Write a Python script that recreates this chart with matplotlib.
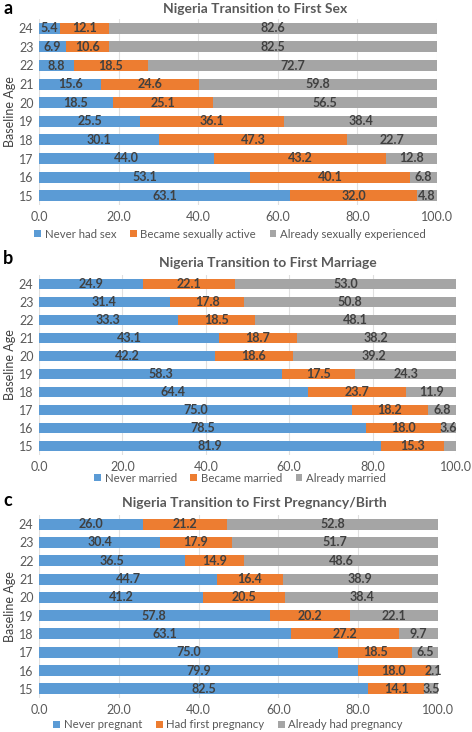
import numpy as np
import matplotlib
matplotlib.use("Agg")
import matplotlib.pyplot as plt

plt.rcParams["font.family"] = ["Lato", "DejaVu Sans"]

# Data, ages 15..24
ages = ["15", "16", "17", "18", "19", "20", "21", "22", "23", "24"]

sex_never = [63.1, 53.1, 44.0, 30.1, 25.5, 18.5, 15.6, 8.8, 6.9, 5.4]
sex_became = [32.0, 40.1, 43.2, 47.3, 36.1, 25.1, 24.6, 18.5, 10.6, 12.1]
sex_already = [4.8, 6.8, 12.8, 22.7, 38.4, 56.5, 59.8, 72.7, 82.5, 82.6]

mar_never = [81.9, 78.5, 75.0, 64.4, 58.3, 42.2, 43.1, 33.3, 31.4, 24.9]
mar_became = [15.3, 18.0, 18.2, 23.7, 17.5, 18.6, 18.7, 18.5, 17.8, 22.1]
mar_already = [2.8, 3.6, 6.8, 11.9, 24.3, 39.2, 38.2, 48.1, 50.8, 53.0]
mar_already_labels = ["", "3.6", "6.8", "11.9", "24.3", "39.2", "38.2", "48.1", "50.8", "53.0"]

preg_never = [82.5, 79.9, 75.0, 63.1, 57.8, 41.2, 44.7, 36.5, 30.4, 26.0]
preg_had = [14.1, 18.0, 18.5, 27.2, 20.2, 20.5, 16.4, 14.9, 17.9, 21.2]
preg_already = [3.5, 2.1, 6.5, 9.7, 22.1, 38.4, 38.9, 48.6, 51.7, 52.8]

xticks = [0, 20, 40, 60, 80, 100]

BLUE = "#5B9BD5"
ORANGE = "#ED7D31"
GREY = "#A5A5A5"
TXT = "#404040"
AXTXT = "#595959"

W, H = 472, 732
fig = plt.figure(figsize=(W / 100, H / 100), dpi=100)


def px_axes(x0, x1, ytop, ybot):
    return fig.add_axes([x0 / W, 1 - ybot / H, (x1 - x0) / W, (ybot - ytop) / H])


def draw_panel(ax, series, names, labels_list):
    y = np.arange(len(ages))
    left = np.zeros(len(ages))
    colors = [BLUE, ORANGE, GREY]
    handles = []
    for vals, name, col, labs in zip(series, names, colors, labels_list):
        bars = ax.barh(y, vals, left=left, height=0.6, color=col, label=name, zorder=3)
        if labs is None:
            labs = ["%.1f" % v for v in vals]
        ax.bar_label(bars, labels=labs, label_type="center", fontsize=9, color=TXT, fontweight="bold")
        left = left + np.array(vals)
        handles.append(bars)
    ax.set_xlim(0, 100)
    ax.set_ylim(-0.5, len(ages) - 0.5)
    ax.set_yticks(y)
    ax.set_yticklabels(ages)
    ax.set_xticks(xticks)
    ax.set_xticklabels(["%.1f" % t for t in xticks])
    ax.tick_params(axis="both", length=0, labelsize=9, colors=AXTXT, pad=4)
    ax.grid(axis="x", color="#E0E0E0", linewidth=0.8, zorder=0)
    for s in ax.spines.values():
        s.set_visible(False)
    ax.set_ylabel("Baseline Age", fontsize=9, color=TXT, labelpad=2)
    return handles


def add_legend(h, cx, cy):
    fig.legend(handles=h, loc="center", bbox_to_anchor=(cx / W, 1 - cy / H), ncol=3,
               frameon=False, fontsize=8.2, handlelength=0.6, handleheight=0.6,
               handletextpad=0.3, columnspacing=1.2, labelcolor=AXTXT,
               borderpad=0, borderaxespad=0)


# panel a
ax_a = px_axes(39, 437, 19, 205)
h = draw_panel(ax_a, [sex_never, sex_became, sex_already],
               ["Never had sex", "Became sexually active", "Already sexually experienced"],
               [None, None, None])
fig.text(255 / W, 1 - 9 / H, "Nigeria Transition to First Sex", ha="center", va="center",
         fontsize=10, color=AXTXT, fontweight="bold")
fig.text(3 / W, 1 - 8 / H, "a", ha="left", va="center", fontsize=13, fontweight="bold")
add_legend(h, 230, 234)

# panel b
ax_b = px_axes(39, 456, 275, 455)
h = draw_panel(ax_b, [mar_never, mar_became, mar_already],
               ["Never married", "Became married", "Already married"],
               [None, None, mar_already_labels])
fig.text(268 / W, 1 - 263 / H, "Nigeria Transition to First Marriage", ha="center", va="center",
         fontsize=10, color=AXTXT, fontweight="bold")
fig.text(3 / W, 1 - 259 / H, "b", ha="left", va="center", fontsize=13, fontweight="bold")
add_legend(h, 240, 478)

# panel c
ax_c = px_axes(39, 438, 515, 698)
h = draw_panel(ax_c, [preg_never, preg_had, preg_already],
               ["Never pregnant", "Had first pregnancy", "Already had pregnancy"],
               [None, None, None])
fig.text(254 / W, 1 - 503 / H, "Nigeria Transition to First Pregnancy/Birth", ha="center", va="center",
         fontsize=10, color=AXTXT, fontweight="bold")
fig.text(3 / W, 1 - 500 / H, "c", ha="left", va="center", fontsize=13, fontweight="bold")
add_legend(h, 228, 725)

fig.savefig("out.png", dpi=100)
